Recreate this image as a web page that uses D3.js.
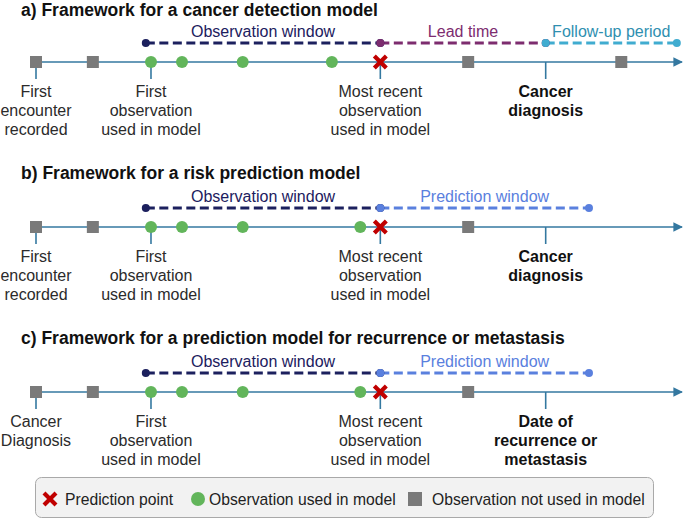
<!DOCTYPE html>
<html>
<head>
<meta charset="utf-8">
<script src="https://cdn.jsdelivr.net/npm/d3@7"></script>
<style>
  html, body { margin: 0; padding: 0; background: #ffffff; }
  svg { display: block; font-family: "Liberation Sans", Arial, sans-serif; }
</style>
</head>
<body>
<svg id="chart" width="685" height="520"></svg>
<script>
// ---------------- data ----------------
const titles = [
  "a) Framework for a cancer detection model",
  "b) Framework for a risk prediction model",
  "c) Framework for a prediction model for recurrence or metastasis"
];
// time positions (arbitrary units, 0 = first recorded event, 100 = end of axis)
const notUsedObs = [
  [0, 8.8, 66.9, 90.6],
  [0, 8.8, 66.9],
  [0, 8.8, 66.9]
];
const usedObs = [
  [17.8, 22.6, 32.0, 45.8],
  [17.8, 22.6, 32.0, 50.2],
  [17.8, 22.6, 32.0, 50.2]
];
const predictionPoints = [53.3, 53.3, 53.3];
const windows = [
  [
    { name: "Observation window", start: 17.0, end: 53.3 },
    { name: "Lead time", start: 53.3, end: 78.9 },
    { name: "Follow-up period", start: 78.9, end: 99.2 }
  ],
  [
    { name: "Observation window", start: 17.0, end: 53.3 },
    { name: "Prediction window", start: 53.3, end: 85.6 }
  ],
  [
    { name: "Observation window", start: 17.0, end: 53.3 },
    { name: "Prediction window", start: 53.3, end: 85.6 }
  ]
];
const keyEvents = [
  [
    { t: 0, lines: ["First", "encounter", "recorded"], emphasis: false },
    { t: 17.8, lines: ["First", "observation", "used in model"], emphasis: false },
    { t: 53.3, lines: ["Most recent", "observation", "used in model"], emphasis: false },
    { t: 78.9, lines: ["Cancer", "diagnosis"], emphasis: true }
  ],
  [
    { t: 0, lines: ["First", "encounter", "recorded"], emphasis: false },
    { t: 17.8, lines: ["First", "observation", "used in model"], emphasis: false },
    { t: 53.3, lines: ["Most recent", "observation", "used in model"], emphasis: false },
    { t: 78.9, lines: ["Cancer", "diagnosis"], emphasis: true }
  ],
  [
    { t: 0, lines: ["Cancer", "Diagnosis"], emphasis: false },
    { t: 17.8, lines: ["First", "observation", "used in model"], emphasis: false },
    { t: 53.3, lines: ["Most recent", "observation", "used in model"], emphasis: false },
    { t: 78.9, lines: ["Date of", "recurrence or", "metastasis"], emphasis: true }
  ]
];
const legendItems = ["Prediction point", "Observation used in model", "Observation not used in model"];

// ---------------- styles ----------------
const windowColor = {
  "Observation window": { line: "#1c205e", text: "#1c205e" },
  "Lead time": { line: "#7d2c6f", text: "#7d2c6f" },
  "Follow-up period": { line: "#40acd0", text: "#2f8fb0" },
  "Prediction window": { line: "#5a80de", text: "#5a80de" }
};
const axisColor = "#3478a0";
const greenColor = "#62b55b";
const grayColor = "#7a7a7a";
const redColor = "#c00000";

// ---------------- layout ----------------
const svg = d3.select("#chart");
const x = d3.scaleLinear().domain([0, 100]).range([36, 682]);
const panelY = d3.scaleLinear().domain([0, 1]).range([62, 227]); // axis baseline of each panel

svg.append("defs").append("marker")
  .attr("id", "arrow")
  .attr("viewBox", "0 0 10 10")
  .attr("refX", 9).attr("refY", 5)
  .attr("markerWidth", 6).attr("markerHeight", 6)
  .attr("markerUnits", "strokeWidth")
  .attr("orient", "auto")
  .append("path").attr("d", "M0,0 L10,5 L0,10 z").attr("fill", axisColor);

function drawX(g, cx, cy, half, w) {
  g.append("path")
    .attr("d", `M${cx - half},${cy - half}L${cx + half},${cy + half}M${cx - half},${cy + half}L${cx + half},${cy - half}`)
    .attr("stroke", redColor).attr("stroke-width", w).attr("fill", "none");
}

titles.forEach((title, i) => {
  const ay = panelY(i);
  const g = svg.append("g");

  // title
  g.append("text")
    .attr("x", 21).attr("y", Math.max(ay - 48, 16))
    .attr("font-size", 17.5).attr("font-weight", "bold").attr("fill", "#111")
    .text(title);

  // windows (dashed)
  const wy = ay - 19;
  windows[i].forEach(w => {
    const c = windowColor[w.name];
    g.append("line")
      .attr("x1", x(w.start)).attr("x2", x(w.end))
      .attr("y1", wy).attr("y2", wy)
      .attr("stroke", c.line).attr("stroke-width", 3)
      .attr("stroke-dasharray", "9,4.5");
    g.append("text")
      .attr("x", (x(w.start) + x(w.end)) / 2).attr("y", wy - 6)
      .attr("text-anchor", "middle").attr("font-size", 16).attr("fill", c.text)
      .text(w.name);
  });
  windows[i].forEach(w => {
    const c = windowColor[w.name];
    g.append("circle").attr("cx", x(w.start)).attr("cy", wy).attr("r", 4).attr("fill", c.line);
    g.append("circle").attr("cx", x(w.end)).attr("cy", wy).attr("r", 4).attr("fill", c.line);
  });

  // axis line with arrow
  g.append("line")
    .attr("x1", x(0)).attr("x2", x(100))
    .attr("y1", ay).attr("y2", ay)
    .attr("stroke", axisColor).attr("stroke-width", 1.6)
    .attr("marker-end", "url(#arrow)");

  // key event ticks + labels
  keyEvents[i].forEach(ev => {
    g.append("line")
      .attr("x1", x(ev.t)).attr("x2", x(ev.t))
      .attr("y1", ay).attr("y2", ay + 17)
      .attr("stroke", axisColor).attr("stroke-width", 1.6);
    const t = g.append("text")
      .attr("text-anchor", "middle").attr("font-size", 16)
      .attr("font-weight", ev.emphasis ? "bold" : "normal")
      .attr("fill", ev.emphasis ? "#111" : "#2b2b2b");
    ev.lines.forEach((ln, k) => {
      t.append("tspan").attr("x", x(ev.t)).attr("y", ay + 35 + k * 19).text(ln);
    });
  });

  // not used observations (squares)
  notUsedObs[i].forEach(v => {
    g.append("rect")
      .attr("x", x(v) - 6).attr("y", ay - 6)
      .attr("width", 12).attr("height", 12)
      .attr("fill", grayColor);
  });
  // used observations (circles)
  usedObs[i].forEach(v => {
    g.append("circle").attr("cx", x(v)).attr("cy", ay).attr("r", 6).attr("fill", greenColor);
  });
  // prediction point
  drawX(g, x(predictionPoints[i]), ay, 6, 4.2);
});

// ---------------- legend ----------------
const lg = svg.append("g");
lg.append("rect")
  .attr("x", 35.5).attr("y", 477.5).attr("width", 618).attr("height", 40)
  .attr("rx", 6).attr("fill", "#f2f2f2").attr("stroke", "#a9a9a9").attr("stroke-width", 1);
const ly = 499;
const legendMarkX = [50, 198, 415];
const legendTextX = [65, 209, 432];
legendItems.forEach((name, k) => {
  const cx = legendMarkX[k];
  if (k === 0) drawX(lg, cx, ly, 6, 4.2);
  if (k === 1) lg.append("circle").attr("cx", cx).attr("cy", ly).attr("r", 7).attr("fill", greenColor);
  if (k === 2) lg.append("rect").attr("x", cx - 7).attr("y", ly - 7).attr("width", 14).attr("height", 14).attr("fill", grayColor);
  lg.append("text")
    .attr("x", legendTextX[k]).attr("y", ly + 6)
    .attr("font-size", 15.7).attr("fill", "#222")
    .text(name);
});
</script>
</body>
</html>
